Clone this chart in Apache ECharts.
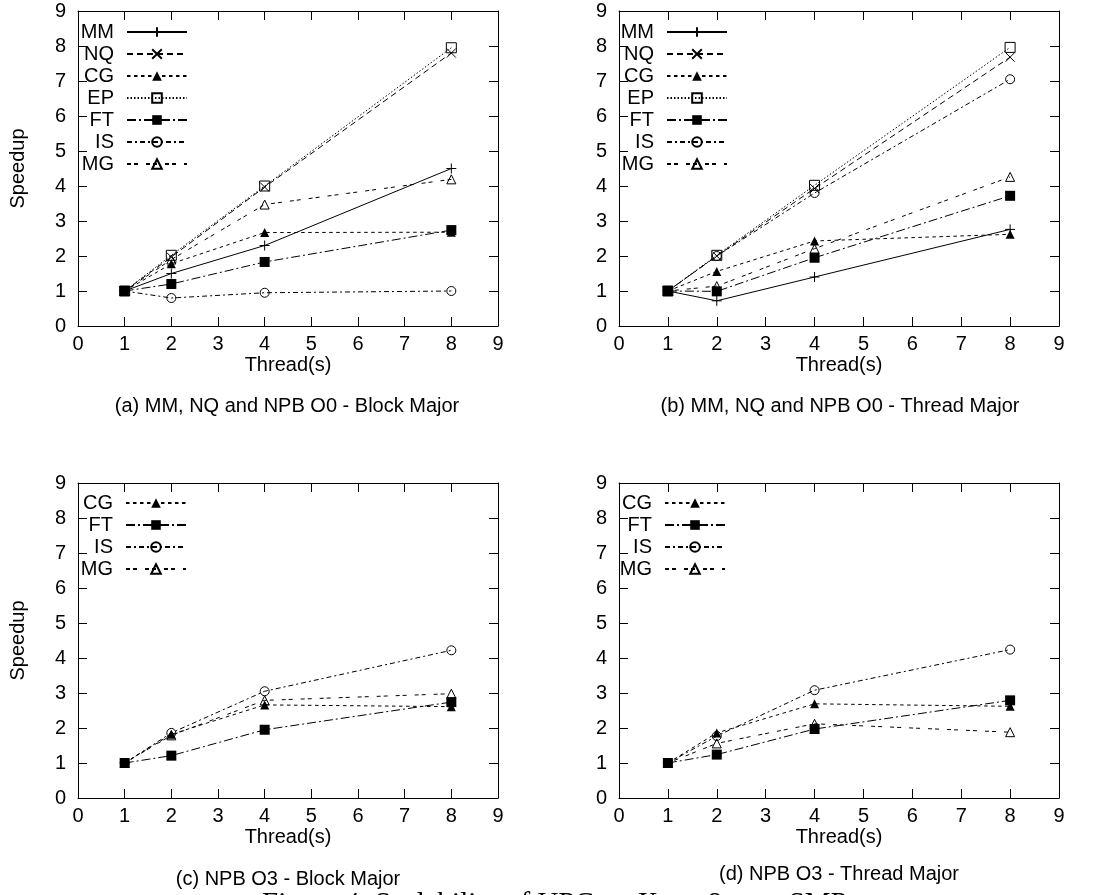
<!DOCTYPE html>
<html lang="en">
<head>
    <meta charset="UTF-8">
    <title>UPC Scalability</title>
    <script src="https://cdn.jsdelivr.net/npm/echarts@6/dist/echarts.min.js"></script>
    <style>
        html, body { margin: 0; padding: 0; background: #fff; }
        #main { width: 1096px; height: 895px; }
    </style>
</head>
<body>
<div id="main"></div>
<script>
    // thread counts on the x axis
    var threads = [1, 2, 4, 8];
    var axisTicks = [0, 1, 2, 3, 4, 5, 6, 7, 8, 9];

    // (a) MM, NQ and NPB O0 - Block Major
    var aMM = [1, 1.5, 2.3, 4.5];
    var aNQ = [1, 1.97, 3.97, 7.8];
    var aCG = [1, 1.78, 2.67, 2.68];
    var aEP = [1, 2.02, 4.0, 7.95];
    var aFT = [1, 1.2, 1.83, 2.74];
    var aIS = [1, 0.8, 0.95, 1.0];
    var aMG = [1, 1.9, 3.47, 4.19];

    // (b) MM, NQ and NPB O0 - Thread Major
    var bMM = [1, 0.72, 1.4, 2.76];
    var bNQ = [1, 2.0, 3.93, 7.68];
    var bCG = [1, 1.56, 2.43, 2.62];
    var bEP = [1, 2.02, 4.02, 7.96];
    var bFT = [1, 0.99, 1.95, 3.72];
    var bIS = [1, 2.0, 3.8, 7.05];
    var bMG = [1, 1.14, 2.21, 4.26];

    // (c) NPB O3 - Block Major
    var cCG = [1, 1.82, 2.66, 2.61];
    var cFT = [1, 1.21, 1.95, 2.74];
    var cIS = [1, 1.86, 3.05, 4.22];
    var cMG = [1, 1.79, 2.79, 2.98];

    // (d) NPB O3 - Thread Major
    var dCG = [1, 1.86, 2.69, 2.62];
    var dFT = [1, 1.24, 1.97, 2.79];
    var dIS = [1, 1.77, 3.08, 4.24];
    var dMG = [1, 1.56, 2.12, 1.88];

    var FONT = 'Liberation Sans, Arial, Helvetica, sans-serif';

    // gnuplot-ish look per benchmark
    var styles = {
        MM: { symbol: 'path://M0,5L10,5M5,0L5,10', size: 10, dash: 'solid', fill: 'transparent', border: 1 },
        NQ: { symbol: 'path://M0,0L10,10M10,0L0,10', size: 9, dash: [6, 4], fill: 'transparent', border: 1 },
        CG: { symbol: 'triangle', size: 9, dash: [3.5, 3.5], fill: '#000', border: 0 },
        EP: { symbol: 'rect', size: 10, dash: [1.5, 2], fill: 'transparent', border: 1 },
        FT: { symbol: 'rect', size: 10, dash: [9, 3, 2, 3], fill: '#000', border: 0 },
        IS: { symbol: 'circle', size: 9, dash: [5, 3, 2, 3], fill: 'transparent', border: 1 },
        MG: { symbol: 'triangle', size: 9, dash: [4, 3, 4, 8], fill: 'transparent', border: 1 }
    };

    function makeSeries(name, values, idx) {
        var s = styles[name];
        return {
            type: 'line',
            name: name,
            xAxisIndex: idx * 2,
            yAxisIndex: idx * 2,
            data: threads.map(function (t, i) { return [t, values[i]]; }),
            symbol: s.symbol,
            symbolSize: s.size,
            showSymbol: true,
            lineStyle: { color: '#000', width: 1, type: s.dash },
            itemStyle: { color: s.fill, borderColor: '#000', borderWidth: s.border }
        };
    }

    var grids = [
        { left: 78, top: 11, width: 420, height: 315 },
        { left: 619, top: 11, width: 440, height: 315 },
        { left: 78, top: 483, width: 420, height: 315 },
        { left: 619, top: 483, width: 440, height: 315 }
    ];

    function tickOpt() {
        return { show: true, inside: true, length: 9, lineStyle: { color: '#000', width: 1 } };
    }
    function lineOpt() {
        return { show: true, onZero: false, lineStyle: { color: '#000', width: 1 } };
    }
    function labelOpt(margin) {
        return { color: '#000', fontSize: 20, fontFamily: FONT, margin: margin };
    }

    // axes on top of everything so the inside ticks stay visible
    var xAxes = [], yAxes = [];
    grids.forEach(function (g, i) {
        xAxes.push({
            type: 'value', gridIndex: i, position: 'bottom', z: 10, min: axisTicks[0], max: axisTicks[axisTicks.length - 1], interval: 1,
            axisLine: lineOpt(), axisTick: tickOpt(), splitLine: { show: false },
            axisLabel: labelOpt(8),
            name: 'Thread(s)', nameLocation: 'middle', nameGap: 29,
            nameTextStyle: { color: '#000', fontSize: 20, fontFamily: FONT }
        });
        xAxes.push({
            type: 'value', gridIndex: i, position: 'top', z: 10, min: axisTicks[0], max: axisTicks[axisTicks.length - 1], interval: 1,
            axisLine: lineOpt(), axisTick: tickOpt(), splitLine: { show: false }, axisLabel: { show: false }
        });
        yAxes.push({
            type: 'value', gridIndex: i, position: 'left', z: 10, min: axisTicks[0], max: axisTicks[axisTicks.length - 1], interval: 1,
            axisLine: lineOpt(), axisTick: tickOpt(), splitLine: { show: false },
            axisLabel: labelOpt(12),
            name: (i % 2 === 0) ? 'Speedup' : '', nameLocation: 'middle', nameGap: 50,
            nameTextStyle: { color: '#000', fontSize: 20, fontFamily: FONT }
        });
        yAxes.push({
            type: 'value', gridIndex: i, position: 'right', z: 10, min: axisTicks[0], max: axisTicks[axisTicks.length - 1], interval: 1,
            axisLine: lineOpt(), axisTick: tickOpt(), splitLine: { show: false }, axisLabel: { show: false }
        });
    });

    var series = [
        makeSeries('MM', aMM, 0), makeSeries('NQ', aNQ, 0), makeSeries('CG', aCG, 0),
        makeSeries('EP', aEP, 0), makeSeries('FT', aFT, 0), makeSeries('IS', aIS, 0), makeSeries('MG', aMG, 0),
        makeSeries('MM', bMM, 1), makeSeries('NQ', bNQ, 1), makeSeries('CG', bCG, 1),
        makeSeries('EP', bEP, 1), makeSeries('FT', bFT, 1), makeSeries('IS', bIS, 1), makeSeries('MG', bMG, 1),
        makeSeries('CG', cCG, 2), makeSeries('FT', cFT, 2), makeSeries('IS', cIS, 2), makeSeries('MG', cMG, 2),
        makeSeries('CG', dCG, 3), makeSeries('FT', dFT, 3), makeSeries('IS', dIS, 3), makeSeries('MG', dMG, 3)
    ];

    function makeLegend(names, right, top) {
        return {
            data: names, orient: 'vertical', align: 'right', right: right, top: top,
            padding: 0, itemGap: 2, itemWidth: 60, itemHeight: 12,
            selectedMode: false,
            textStyle: { color: '#000', fontSize: 20, fontFamily: FONT, padding: [0, 8, 0, 0] }
        };
    }
    var allNames = ['MM', 'NQ', 'CG', 'EP', 'FT', 'IS', 'MG'];
    var npbNames = ['CG', 'FT', 'IS', 'MG'];

    function caption(text, x, y) {
        return {
            type: 'text', x: x, y: y,
            style: { text: text, fill: '#000', font: '20px ' + FONT, textAlign: 'center', textVerticalAlign: 'middle' }
        };
    }

    var myChart = echarts.init(document.getElementById('main'));
    var option = {
        animation: false,
        grid: grids,
        xAxis: xAxes,
        yAxis: yAxes,
        legend: [
            makeLegend(allNames, 908, 22),
            makeLegend(allNames, 368, 22),
            makeLegend(npbNames, 909, 493),
            makeLegend(npbNames, 370, 493)
        ],
        series: series,
        graphic: [
            caption('(a) MM, NQ and NPB O0 - Block Major', 287, 406),
            caption('(b) MM, NQ and NPB O0 - Thread Major', 840, 406),
            caption('(c) NPB O3 - Block Major', 288, 879),
            caption('(d) NPB O3 - Thread Major', 839, 874),
            {
                type: 'text', x: 262, y: 890,
                style: { text: 'Figure 4: Scalability of UPC on Xeon 8-core SMP', fill: '#000',
                    font: '29px "Liberation Serif", "DejaVu Serif", serif', textAlign: 'left', textVerticalAlign: 'top' }
            }
        ]
    };
    myChart.setOption(option);
</script>
</body>
</html>
